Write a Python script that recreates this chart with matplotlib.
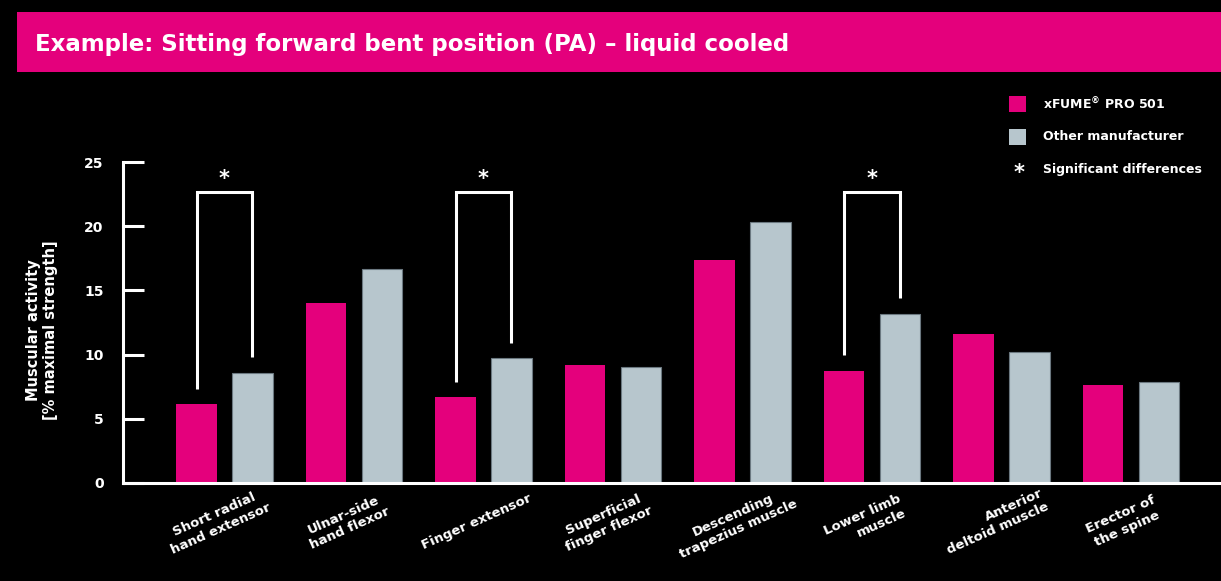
import numpy as np
import matplotlib.pyplot as plt
from matplotlib.patches import Rectangle
from matplotlib.transforms import ScaledTranslation

# NOTE: values
muscles = [
    "Short radial\nhand extensor",
    "Ulnar-side\nhand flexor",
    "Finger extensor",
    "Superficial\nfinger flexor",
    "Descending\ntrapezius muscle",
    "Lower limb\nmuscle",
    "Anterior\ndeltoid muscle",
    "Erector of\nthe spine",
]
xfume = [6.15, 14.0, 6.7, 9.2, 17.4, 8.75, 11.6, 7.65]
other = [8.6, 16.7, 9.7, 9.05, 20.3, 13.2, 10.2, 7.9]
significant = [0, 2, 5]
yticks = [0, 5, 10, 15, 20, 25]

series_names = ["xFUME$^{®}$ PRO 501", "Other manufacturer"]
title = "Example: Sitting forward bent position (PA) \u2013 liquid cooled"
ylabel = "Muscular activity\n[% maximal strength]"

magenta = "#e4007c"
grey = "#b7c6cd"
white = "white"

plt.rcParams["font.family"] = ["DejaVu Sans"]
plt.rcParams["font.weight"] = "bold"

fig = plt.figure(figsize=(12.21, 5.81), dpi=100, facecolor="black")

# NOTE: title banner
fig.patches.append(
    Rectangle((17 / 1221, 1 - 72 / 581), 1, 60 / 581,
              transform=fig.transFigure, facecolor=magenta,
              edgecolor="none", zorder=0)
)
fig.text(35 / 1221, 1 - 44 / 581, title, color=white, fontsize=16.5,
         fontweight="bold", va="center", ha="left")

ax = fig.add_axes([123 / 1221, 1 - 483 / 581, 1 - 123 / 1221, 321 / 581])
ax.set_facecolor("black")

x = np.arange(len(muscles))
offset = 0.216
width = 0.31

ax.bar(x - offset, xfume, width=width, color=magenta, edgecolor="none", zorder=2)
ax.bar(x + offset, other, width=width, color=grey, edgecolor="#6b7880",
       linewidth=0.8, zorder=2)

# NOTE: significance brackets
bracket_top = 22.7
for i in significant:
    xl, xr = i - offset, i + offset
    ax.plot([xl, xl, xr, xr],
            [xfume[i] + 1.2, bracket_top, bracket_top, other[i] + 1.2],
            color=white, linewidth=2.2, solid_capstyle="butt",
            solid_joinstyle="miter", zorder=3)
    ax.text(i, bracket_top + 0.2, "*", color=white, fontsize=15,
            ha="center", va="bottom", fontweight="bold")

ax.set_xlim(-0.784, 7.695)
ax.set_ylim(0, 25)

ax.set_yticks(yticks)
ax.set_yticklabels([str(t) for t in yticks], color=white, fontsize=10,
                   fontweight="bold")
ax.tick_params(axis="y", direction="in", length=15, width=2.2, color=white,
               pad=14)

ax.set_xticks(x)
ax.set_xticklabels(muscles, rotation=24, ha="center", va="center",
                   rotation_mode="anchor", color=white, fontsize=9.5,
                   fontweight="bold")
ax.tick_params(axis="x", length=0, pad=28)
label_align = ["center", "center", "center", "center", "center", "right",
               "right", "center"]
shift = ScaledTranslation(-7 / 100, 0, fig.dpi_scale_trans)
for lab, al in zip(ax.get_xticklabels(), label_align):
    lab.set_multialignment(al)
    lab.set_transform(lab.get_transform() + shift)

for side in ["top", "right"]:
    ax.spines[side].set_visible(False)
for side in ["left", "bottom"]:
    ax.spines[side].set_color(white)
    ax.spines[side].set_linewidth(2.2)

fig.text(42 / 1221, 1 - 330 / 581, ylabel, color=white, fontsize=10.5,
         fontweight="bold", rotation=90, ha="center", va="center",
         multialignment="center")

# NOTE: legend drawn by hand
legend_y = [104, 137]
for name, col, yy in zip(series_names, [magenta, grey], legend_y):
    fig.patches.append(
        Rectangle((1009 / 1221, 1 - (yy + 8) / 581), 17 / 1221, 16 / 581,
                  transform=fig.transFigure, facecolor=col, edgecolor="none")
    )
    fig.text(1043 / 1221, 1 - yy / 581, name, color=white, fontsize=9,
             fontweight="bold", va="center", ha="left")
fig.text(1019 / 1221, 1 - 173 / 581, "*", color=white, fontsize=15,
         fontweight="bold", va="center", ha="center")
fig.text(1043 / 1221, 1 - 170 / 581, "Significant differences", color=white,
         fontsize=9, fontweight="bold", va="center", ha="left")

fig.savefig("out.png", dpi=100, facecolor="black")
